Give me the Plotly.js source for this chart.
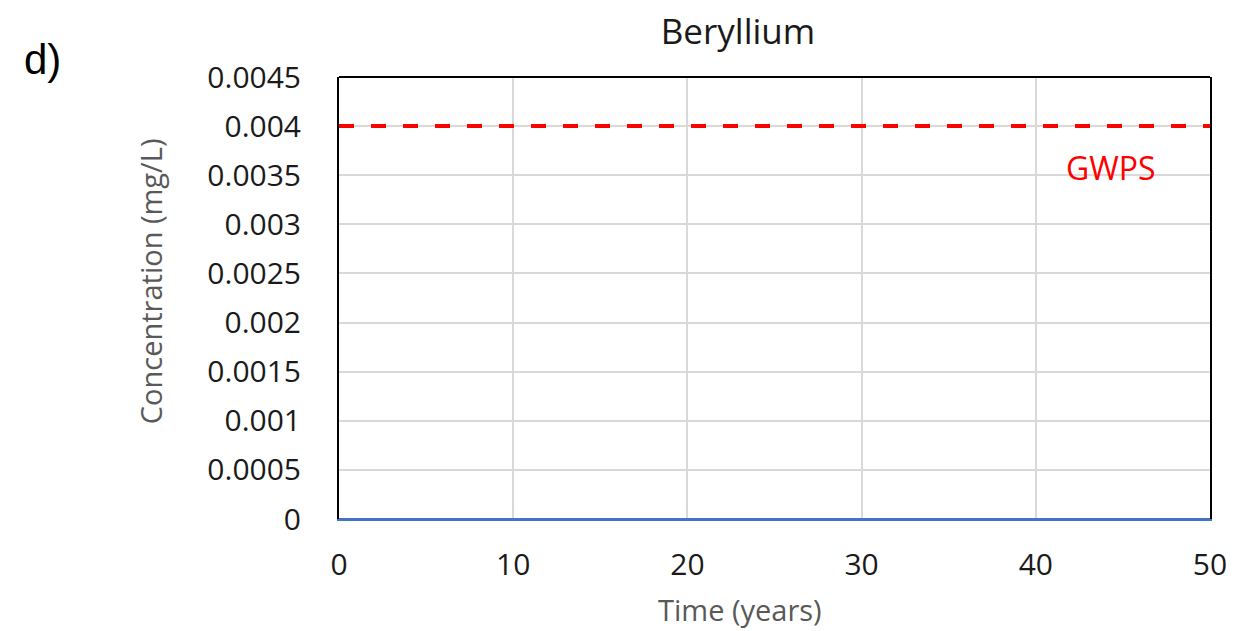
<!DOCTYPE html>
<html>
<head>
<meta charset="utf-8">
<script src="https://cdn.plot.ly/plotly-3.0.1.min.js"></script>
<style>html,body{margin:0;padding:0;background:#fff;}#chart{width:1247px;height:631px;}</style>
</head>
<body>
<div id="chart"></div>
<script>
// Data
const years = [0, 10, 20, 30, 40, 50];
const beryllium = [0, 0, 0, 0, 0, 0];
const gwpsYears = [0, 50];
const gwpsValues = [0.004, 0.004];
const yTickVals = [0, 0.0005, 0.001, 0.0015, 0.002, 0.0025, 0.003, 0.0035, 0.004, 0.0045];
const yTickText = ['0', '0.0005', '0.001', '0.0015', '0.002', '0.0025', '0.003', '0.0035', '0.004', '0.0045'];
const xTickVals = [0, 10, 20, 30, 40, 50];
const xTickText = ['0', '10', '20', '30', '40', '50'];

const FONT = 'Open Sans, sans-serif';
const PW = 872, PH = 442, ML = 339, MT = 77;

const traces = [
  {
    x: years, y: beryllium, type: 'scatter', mode: 'lines',
    line: {color: '#4472C4', width: 2}, hoverinfo: 'skip', showlegend: false
  },
  {
    x: gwpsYears, y: gwpsValues, type: 'scatter', mode: 'lines',
    line: {color: '#FF0000', width: 4, dash: '15px,17px'}, hoverinfo: 'skip', showlegend: false
  }
];

const layout = {
  width: 1247, height: 631,
  paper_bgcolor: '#ffffff', plot_bgcolor: '#ffffff',
  margin: {l: ML, r: 37, t: MT, b: 112},
  font: {family: FONT, color: '#1a1a1a'},
  title: {
    text: 'Beryllium', font: {family: FONT, size: 35, color: '#1a1a1a'},
    x: 738 / 1247, xanchor: 'center', xref: 'container',
    y: 1 - 32 / 631, yanchor: 'middle', yref: 'container'
  },
  xaxis: {
    range: [0, 50], tickvals: xTickVals, ticktext: xTickText,
    showgrid: true, gridcolor: '#d9d9d9', gridwidth: 2,
    zeroline: false, showline: true, linecolor: '#4472C4', linewidth: 2,
    ticks: '', ticklabelstandoff: 18,
    tickfont: {family: FONT, size: 30, color: '#1a1a1a'},
    fixedrange: true
  },
  yaxis: {
    range: [0, 0.0045], tickvals: yTickVals, ticktext: yTickText,
    showgrid: true, gridcolor: '#d9d9d9', gridwidth: 2,
    zeroline: false, showline: true, mirror: true, linecolor: '#000000', linewidth: 2,
    ticks: '', ticklabelstandoff: 30,
    tickfont: {family: FONT, size: 30, color: '#1a1a1a'},
    fixedrange: true
  },
  shapes: [
    {type: 'line', xref: 'paper', yref: 'paper', x0: 0, x1: 1, y0: 1, y1: 1,
     line: {color: '#000000', width: 2}}
  ],
  annotations: [
    {text: 'Time (years)', xref: 'paper', yref: 'paper', x: (740 - ML) / PW, y: -(609 - MT - PH) / PH,
     xanchor: 'center', yanchor: 'middle', showarrow: false,
     font: {family: FONT, size: 29, color: '#595959'}},
    {text: 'Concentration (mg/L)', xref: 'paper', yref: 'paper', x: (150 - ML) / PW, y: (MT + PH - 281) / PH,
     xanchor: 'center', yanchor: 'middle', textangle: -90, showarrow: false,
     font: {family: FONT, size: 29, color: '#595959'}},
    {text: 'GWPS', xref: 'x', yref: 'y', x: 44.3, y: 0.00358, showarrow: false,
     xanchor: 'center', yanchor: 'middle', font: {family: FONT, size: 32, color: '#FF0000'}},
    {text: 'd)', xref: 'paper', yref: 'paper', x: (42 - ML) / PW, y: 1 + (MT - 60) / PH,
     xanchor: 'center', yanchor: 'middle', showarrow: false,
     font: {family: 'Liberation Sans, Arial, sans-serif', size: 42, color: '#000000'}}
  ]
};

Plotly.newPlot('chart', traces, layout, {displayModeBar: false, staticPlot: true});
</script>
</body>
</html>
